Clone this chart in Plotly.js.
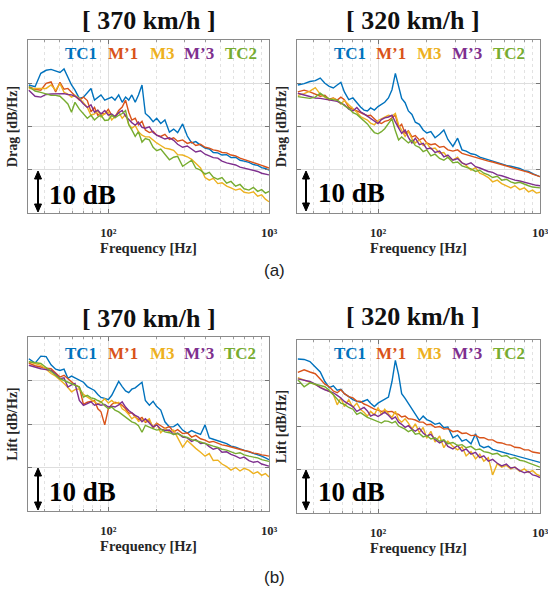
<!DOCTYPE html>
<html><head><meta charset="utf-8">
<script src="https://cdn.plot.ly/plotly-3.0.1.min.js"></script>
<style>html,body{margin:0;padding:0;background:#fff;}#chart{width:548px;height:590px;}</style>
</head><body><div id="chart"></div>
<script>
// Frequency axis (Hz)
const freq = [32,35,38,41,44,47,50,53,56,59,62,66,70,74,78,82,86,90,95,100,105,110,116,122,128,134,140,147,154,162,170,180,190,200,212,225,240,255,270,290,310,330,350,375,400,425,450,480,510,545,580,620,660,700,750,800,850,900,950,1000];

const seriesNames = ['TC1','M\u20191','M3','M\u20193','TC2'];
const speeds = ['[ 370 km/h ]','[ 320 km/h ]'];
const quantities = ['Drag [dB/Hz]','Lift [dB/Hz]'];
const xTickVals = [100,1000];
const xTickText = ['10\u00B2','10\u00B3'];
const xMinorVals = [40,50,60,70,80,90,200,300,400,500,600,700,800,900];

// Drag, 370 km/h (relative dB)
const dragTC1_370 = [29.6,29.2,32.3,33.0,33.2,32.9,32.5,33.3,31.5,29.6,28.4,26.5,26.8,27.7,28.8,26.1,26.8,27.3,26.1,26.5,26.8,26.1,27.3,25.6,26.8,26.1,27.3,25.6,27.3,29.6,23.0,22.2,21.1,21.9,20.7,21.5,18.7,19.4,18.6,20.6,17.8,16.2,16.5,15.7,15.0,14.8,14.0,13.9,13.4,13.5,12.8,12.9,12.2,12.0,11.7,11.2,11.0,10.5,10.3,9.9];
const dragM1_370 = [29.2,28.6,28.4,30.0,30.3,28.0,30.2,28.6,28.8,27.9,27.3,26.1,26.8,26.0,23.4,24.4,22.6,23.0,22.9,24.0,22.6,22.2,23.7,24.5,26.1,23.3,21.5,21.9,20.4,21.2,19.2,18.6,18.9,18.0,17.7,18.2,17.0,17.4,16.6,16.9,16.1,16.4,15.6,15.9,15.2,15.0,14.6,14.4,14.0,13.9,13.4,13.2,12.7,12.4,12.1,11.6,11.3,11.0,10.7,10.4];
const dragM3_370 = [28.8,28.8,28.8,28.8,29.6,28.4,29.9,27.9,27.5,26.8,27.2,26.5,25.5,24.4,22.6,22.9,23.7,22.2,23.0,23.3,21.5,22.4,23.3,21.9,22.8,20.5,19.6,20.2,18.8,18.0,17.6,17.6,16.8,16.2,15.6,15.0,14.8,14.5,13.5,13.4,13.0,12.4,11.5,10.4,8.2,7.6,8.0,6.8,7.0,6.2,5.8,5.3,5.6,4.8,4.6,4.9,3.9,4.2,3.2,2.6];
const dragM3p_370 = [28.4,27.0,26.8,27.4,27.5,27.5,27.5,27.6,27.4,27.3,27.0,26.3,25.2,24.4,25.0,23.3,23.8,22.9,23.7,22.6,22.9,22.3,23.2,23.7,22.4,21.5,20.9,20.3,21.0,19.8,19.6,19.9,18.6,18.0,17.6,17.1,17.4,16.8,15.9,15.2,15.5,14.8,14.1,14.4,13.6,13.2,12.8,12.7,12.0,11.6,11.3,11.1,10.6,10.4,10.2,9.8,9.6,9.2,9.0,8.8];
const dragTC2_370 = [29.2,28.2,27.9,27.5,27.2,27.2,27.0,26.1,25.2,23.3,25.6,24.0,22.9,21.9,22.6,21.5,22.2,22.6,21.4,21.5,22.6,22.0,22.6,23.0,23.7,20.4,19.2,17.7,18.8,16.4,17.2,16.9,15.2,14.4,14.8,13.5,12.3,12.9,13.1,10.8,11.5,12.2,10.4,9.9,9.0,9.4,8.3,7.8,8.2,6.9,7.3,6.2,6.6,5.6,5.3,5.9,5.0,5.4,4.6,5.0];

// Drag, 320 km/h
const dragTC1_320 = [29.6,29.9,30.4,30.6,31.2,30.0,29.3,28.9,29.6,30.2,28.0,26.2,26.6,25.5,24.5,23.8,23.6,24.3,23.8,24.6,25.1,25.6,26.6,28.5,32.3,29.5,26.5,25.5,23.6,22.8,21.0,20.5,19.2,18.5,18.8,17.4,18.2,19.2,17.0,15.4,17.3,14.6,14.3,13.7,13.5,12.9,12.6,12.3,12.0,11.6,11.3,11.0,10.8,10.6,10.3,9.8,9.6,9.1,8.8,8.4];
const dragM1_320 = [28.0,28.4,28.0,27.5,27.0,27.2,26.3,26.6,26.1,26.8,26.2,24.4,23.9,23.6,23.2,22.9,22.5,22.6,21.8,21.0,20.7,21.2,21.4,22.0,22.6,19.8,20.5,18.4,19.0,17.6,17.9,16.9,17.3,16.2,15.8,16.0,15.2,15.4,14.6,14.3,14.6,13.8,13.5,13.3,12.9,12.6,12.3,12.0,11.8,11.5,11.2,11.0,10.7,10.4,10.1,9.7,9.4,9.0,8.7,8.4];
const dragM3_320 = [27.2,27.6,28.2,29.0,27.5,26.8,26.1,26.5,26.0,25.2,26.0,25.0,24.2,23.3,22.3,21.8,21.5,20.8,20.4,21.4,21.8,22.2,22.6,22.4,23.0,20.4,19.0,17.7,18.8,17.2,16.2,16.9,15.6,16.2,14.8,15.0,13.8,14.0,12.8,12.3,12.9,11.6,11.0,9.9,10.5,9.2,8.8,8.2,7.2,7.6,6.8,6.2,5.8,6.3,5.4,5.8,4.9,5.3,4.6,4.8];
const dragM3p_320 = [27.7,27.3,26.9,26.6,26.5,26.3,26.2,26.1,25.8,25.4,25.0,24.0,23.6,24.4,23.4,22.9,22.4,21.8,21.2,20.7,21.6,22.0,22.2,22.6,21.0,19.6,18.4,19.2,17.5,16.2,17.3,15.8,16.1,14.8,15.0,14.0,14.3,13.0,13.4,12.2,12.6,11.6,11.2,11.6,10.7,10.4,10.0,9.6,9.4,8.8,8.6,8.2,7.9,7.6,7.4,7.1,6.9,6.6,6.4,6.3];
const dragTC2_320 = [26.9,26.7,26.5,26.8,27.7,26.9,26.4,26.2,26.1,25.5,24.8,24.2,23.2,22.8,22.0,21.4,20.6,19.6,18.6,18.3,18.8,19.5,20.6,21.8,19.0,16.9,17.6,16.9,16.2,16.8,15.6,15.2,14.2,14.6,13.2,13.6,12.6,12.2,12.9,11.6,11.8,10.9,10.6,10.2,9.6,9.9,9.2,8.8,8.2,8.5,7.6,7.8,7.2,6.9,7.1,6.6,6.3,6.0,5.9,5.8];

// Lift, 370 km/h
const liftTC1_370 = [35.0,34.0,35.6,35.5,33.6,32.6,32.3,32.6,30.5,31.0,30.6,30.0,29.6,28.6,28.2,27.7,26.8,26.1,25.9,25.6,26.6,28.2,29.8,28.6,27.6,27.2,28.0,28.3,28.9,29.6,25.4,24.3,25.2,24.0,23.2,20.5,19.3,19.4,20.0,18.6,17.9,18.5,18.0,17.6,19.8,16.8,16.5,16.2,15.8,15.5,14.9,14.7,14.3,14.0,13.5,13.2,12.9,12.6,12.2,11.8];
const liftM1_370 = [34.0,33.4,33.1,32.8,32.7,31.8,30.8,31.2,30.4,29.5,29.0,28.5,24.5,25.0,25.2,25.4,23.5,22.8,19.8,23.5,24.5,25.0,24.8,24.3,23.5,22.5,22.6,21.6,21.0,21.5,20.4,20.8,19.3,20.2,19.6,19.0,19.4,18.2,18.7,17.8,18.0,17.0,17.4,16.6,16.3,15.8,16.0,15.5,15.2,15.0,14.7,14.5,14.2,13.9,13.7,13.3,13.2,12.9,12.8,12.6];
const liftM3_370 = [34.3,33.8,33.5,32.6,31.6,31.0,30.2,29.3,28.4,27.4,27.9,28.1,26.8,26.2,25.5,25.1,24.6,25.0,25.8,24.8,25.4,24.7,25.0,23.5,23.0,22.2,21.2,21.8,20.6,21.0,20.6,21.2,19.0,20.0,18.0,19.0,18.2,18.6,16.8,14.7,16.2,15.2,14.4,13.5,12.6,13.2,11.6,11.7,10.8,10.2,9.4,10.0,9.2,9.8,9.4,8.6,9.0,8.2,8.6,7.8];
const liftM3p_370 = [33.5,33.0,32.7,32.5,32.3,31.5,30.4,30.6,28.5,29.0,29.3,25.4,24.3,24.7,25.1,24.3,24.6,24.3,24.5,23.9,24.1,23.9,24.4,25.1,23.9,23.1,22.5,22.0,21.6,20.5,21.2,20.2,19.3,19.8,18.8,18.5,18.6,17.6,17.9,17.0,16.8,16.0,16.4,15.5,15.6,14.8,14.2,14.5,13.5,13.6,13.0,12.6,12.1,12.4,11.6,11.2,11.4,10.8,10.6,10.3];
const liftTC2_370 = [34.3,34.0,33.9,33.0,32.0,31.2,30.4,30.0,29.6,29.3,28.9,28.5,26.2,26.6,26.0,25.8,25.4,25.1,24.2,23.5,23.9,23.2,22.8,22.2,21.6,21.0,20.5,20.2,19.6,18.1,19.7,19.3,19.0,18.6,18.8,18.2,18.0,17.6,17.8,17.2,16.9,16.4,16.2,15.8,15.5,15.2,14.9,14.6,14.2,14.0,13.6,13.2,13.4,12.9,12.6,12.4,12.2,11.8,11.6,11.4];

// Lift, 320 km/h
const liftTC1_320 = [35.6,35.5,35.0,33.8,32.6,30.4,29.0,29.4,28.4,28.6,27.6,26.9,26.2,25.8,25.6,25.9,26.2,25.4,24.6,25.4,25.8,26.2,26.8,30.4,35.3,32.0,27.6,26.5,25.4,24.2,23.0,21.4,22.4,21.6,21.2,20.5,20.8,19.7,19.9,17.4,18.0,16.6,17.0,16.0,18.3,15.6,15.1,15.4,14.7,14.4,14.2,13.9,13.6,13.3,13.0,12.7,12.4,12.1,11.9,11.7];
const liftM1_320 = [32.5,33.1,32.6,32.2,31.0,29.8,29.2,28.2,27.8,28.5,27.6,26.9,26.6,25.9,25.8,25.2,24.9,24.4,24.0,23.8,23.5,23.6,23.4,23.5,23.0,22.8,22.2,22.4,21.8,21.7,21.5,21.0,21.0,20.4,20.5,19.8,20.0,19.4,19.5,18.8,19.0,18.4,18.5,17.9,18.0,17.4,17.4,16.9,16.9,16.3,16.2,15.8,15.7,15.2,15.1,14.6,14.6,14.1,14.0,13.8];
const liftM3_320 = [31.3,30.8,30.2,29.7,29.2,28.6,28.1,27.4,25.0,26.6,24.6,26.2,24.4,25.4,23.9,23.3,22.4,23.5,22.7,24.4,22.8,24.0,22.9,22.1,23.5,21.6,21.0,21.8,20.8,19.4,20.6,18.6,19.8,17.3,18.9,16.4,17.8,15.1,16.6,15.4,14.6,15.3,13.2,14.2,12.5,13.6,12.0,12.8,8.8,11.4,10.6,11.0,10.2,10.6,9.6,10.2,9.4,9.8,9.0,8.6];
const liftM3p_320 = [31.0,30.6,30.4,29.8,29.0,28.5,28.2,27.8,27.2,26.6,25.8,25.1,24.6,23.5,23.9,24.4,23.6,22.4,22.8,22.3,22.8,23.3,22.6,21.7,22.2,21.0,20.5,19.8,20.2,19.4,18.9,19.6,18.5,17.8,18.2,17.0,16.2,16.8,15.4,14.8,15.6,14.3,14.8,13.6,14.0,12.8,13.2,12.0,12.4,11.5,10.9,11.3,10.4,10.6,9.8,9.3,9.6,8.8,8.6,8.2];
const liftTC2_320 = [30.8,29.2,30.1,29.8,29.4,29.2,28.4,27.4,26.5,25.4,25.1,24.4,24.0,22.8,23.2,22.6,22.1,21.8,21.4,21.0,20.8,21.3,21.2,20.8,21.2,20.1,19.8,19.4,18.8,19.2,18.2,18.4,17.6,17.9,17.1,17.4,16.6,16.9,16.0,16.3,15.6,15.8,15.1,15.4,14.6,14.8,14.2,14.0,13.6,13.8,13.1,13.3,12.6,12.8,12.2,12.0,11.6,11.3,10.9,10.6];

const colors = ['#0072BD','#D95319','#EDB120','#7E2F8E','#77AC30'];

const panels = [
  {ax:'', q:0, s:0, data:[dragTC1_370,dragM1_370,dragM3_370,dragM3p_370,dragTC2_370],
   dom:{x:[28,269], y:[40,213]}, title:[149,20], legend:[81,123,162,199,241], legY:53, db:[82,195], arrow:[38,171,212]},
  {ax:'2', q:0, s:1, data:[dragTC1_320,dragM1_320,dragM3_320,dragM3p_320,dragTC2_320],
   dom:{x:[297,540], y:[40,213]}, title:[413,20], legend:[350,391,429,467,509], legY:53, db:[351,193], arrow:[306,171,211]},
  {ax:'3', q:1, s:0, data:[liftTC1_370,liftM1_370,liftM3_370,liftM3p_370,liftTC2_370],
   dom:{x:[28,269], y:[337,511]}, title:[149,318], legend:[81,123,162,199,240], legY:353, db:[82,492], arrow:[38,468,510]},
  {ax:'4', q:1, s:1, data:[liftTC1_320,liftM1_320,liftM3_320,liftM3p_320,liftTC2_320],
   dom:{x:[297,540], y:[340,513]}, title:[413,316], legend:[350,391,429,467,509], legY:353, db:[351,492], arrow:[306,470,510]}
];

const W = 548, H = 590;
const px = v => v / W;
const py = v => 1 - v / H;
const serif = 'Liberation Serif, Times New Roman, serif';

const traces = [];
const layout = {
  width: W, height: H, autosize: false,
  margin: {l:0, r:0, t:0, b:0},
  paper_bgcolor: '#ffffff', plot_bgcolor: '#ffffff',
  showlegend: false,
  annotations: [], shapes: []
};

panels.forEach(p => {
  p.data.forEach((vals, i) => {
    traces.push({
      x: freq, y: vals, type: 'scatter', mode: 'lines', name: seriesNames[i],
      xaxis: 'x' + p.ax, yaxis: 'y' + p.ax,
      line: {color: colors[i], width: 1.4}, hoverinfo: 'skip'
    });
  });
  const xa = 'xaxis' + p.ax, ya = 'yaxis' + p.ax;
  layout[xa] = {
    type: 'log', range: [1.5, 3], domain: [px(p.dom.x[0]), px(p.dom.x[1])],
    anchor: 'y' + p.ax,
    tickmode: 'array', tickvals: xTickVals, ticktext: xTickText,
    ticks: 'inside', ticklen: 4, tickcolor: '#777',
    ticklabelstandoff: 8, ticklabeloverflow: 'allow',
    showgrid: true, gridcolor: '#dedede', gridwidth: 1,
    minor: {tickmode: 'array', tickvals: xMinorVals, ticks: 'inside', ticklen: 2, tickcolor: '#999',
            showgrid: true, gridcolor: '#e2e2e2', griddash: 'dot', gridwidth: 1},
    showline: true, linecolor: '#8a8a8a', linewidth: 1, mirror: 'ticks',
    zeroline: false, fixedrange: true,
    tickfont: {family: serif, size: 12.5, color: '#262626', weight: 'bold'},
    title: {text: 'Frequency [Hz]', font: {family: serif, size: 14.5, color: '#262626', weight: 'bold'}, standoff: 2}
  };
  layout[ya] = {
    range: [0, 40], domain: [py(p.dom.y[1]), py(p.dom.y[0])],
    anchor: 'x' + p.ax,
    tickmode: 'array', tickvals: [0,10,20,30,40], showticklabels: false,
    ticks: 'inside', ticklen: 4, tickcolor: '#777',
    showgrid: true, gridcolor: '#dedede', gridwidth: 1,
    showline: true, linecolor: '#8a8a8a', linewidth: 1, mirror: 'ticks',
    zeroline: false, fixedrange: true,
    title: {text: quantities[p.q], font: {family: serif, size: 14, color: '#262626', weight: 'bold'}, standoff: 6}
  };
  // subplot title
  layout.annotations.push({
    xref: 'paper', yref: 'paper', x: px(p.title[0]), y: py(p.title[1]),
    xanchor: 'center', yanchor: 'middle', showarrow: false,
    text: speeds[p.s], font: {family: serif, size: 26, color: '#111', weight: 'bold'}
  });
  // coloured series labels
  seriesNames.forEach((n, i) => {
    layout.annotations.push({
      xref: 'paper', yref: 'paper', x: px(p.legend[i]), y: py(p.legY),
      xanchor: 'center', yanchor: 'middle', showarrow: false,
      text: n, font: {family: serif, size: 17, color: colors[i], weight: 'bold'}
    });
  });
  // 10 dB scale text
  layout.annotations.push({
    xref: 'paper', yref: 'paper', x: px(p.db[0]), y: py(p.db[1]),
    xanchor: 'center', yanchor: 'middle', showarrow: false,
    text: '10 dB', font: {family: serif, size: 27, color: '#000', weight: 'bold'}
  });
  // double-headed scale arrow (shapes)
  const ax = p.arrow[0], y1 = p.arrow[1], y2 = p.arrow[2], hl = 8, hw = 3.5;
  layout.shapes.push({type: 'line', xref: 'paper', yref: 'paper',
    x0: px(ax), x1: px(ax), y0: py(y1 + hl - 1), y1: py(y2 - hl + 1),
    line: {color: '#000', width: 2}});
  layout.shapes.push({type: 'path', xref: 'paper', yref: 'paper',
    path: `M ${px(ax)},${py(y1)} L ${px(ax - hw)},${py(y1 + hl)} L ${px(ax + hw)},${py(y1 + hl)} Z`,
    fillcolor: '#000', line: {color: '#000', width: 1}});
  layout.shapes.push({type: 'path', xref: 'paper', yref: 'paper',
    path: `M ${px(ax)},${py(y2)} L ${px(ax - hw)},${py(y2 - hl)} L ${px(ax + hw)},${py(y2 - hl)} Z`,
    fillcolor: '#000', line: {color: '#000', width: 1}});
});

layout.annotations.push({xref:'paper', yref:'paper', x: px(274), y: py(270), xanchor:'center', yanchor:'middle',
  showarrow:false, text:'(a)', font:{family:'Liberation Sans, Arial, sans-serif', size:17, color:'#222'}});
layout.annotations.push({xref:'paper', yref:'paper', x: px(274), y: py(577), xanchor:'center', yanchor:'middle',
  showarrow:false, text:'(b)', font:{family:'Liberation Sans, Arial, sans-serif', size:17, color:'#222'}});

Plotly.newPlot('chart', traces, layout, {staticPlot: true, displayModeBar: false});
</script></body></html>
